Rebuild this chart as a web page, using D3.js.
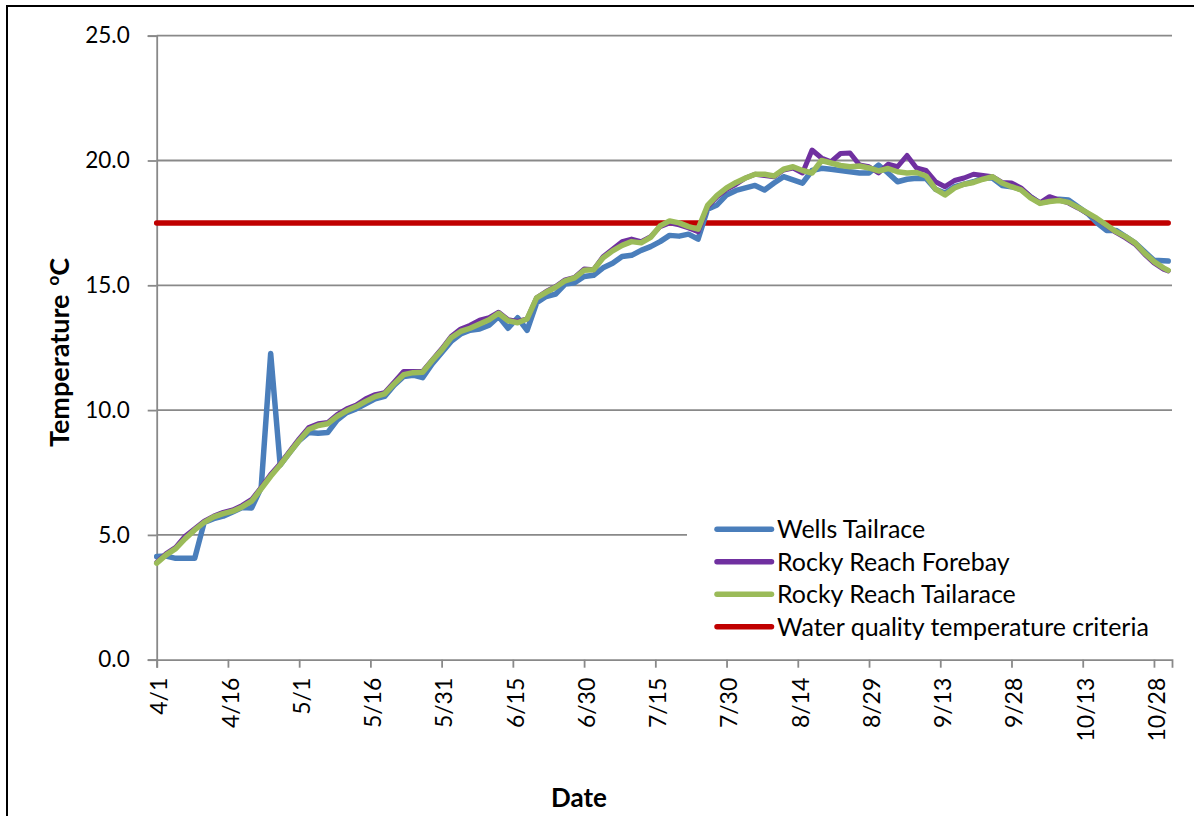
<!DOCTYPE html>
<html>
<head>
<meta charset="utf-8">
<script src="https://cdn.jsdelivr.net/npm/d3@7"></script>
<style>
  body { margin: 0; background: #fff; }
  svg { display: block; font-family: Lato, "Open Sans", sans-serif; }
</style>
</head>
<body>
<svg width="1194" height="816"></svg>
<script>
// days since 4/1, read every second day off the chart (last point 10/31)
const dayOffsets = d3.range(0, 213, 2).concat([213]);

const wellsTailrace = [
  4.13, 4.15, 4.06, 4.06, 4.06, 5.5, 5.65, 5.75, 5.92, 6.1,
  6.08, 6.9, 12.27, 7.8, 8.3, 8.78, 9.1, 9.07, 9.1, 9.6,
  9.9, 10.05, 10.25, 10.45, 10.55, 11.0, 11.35, 11.4, 11.3, 11.85,
  12.3, 12.75, 13.05, 13.2, 13.25, 13.4, 13.75, 13.28, 13.7, 13.2,
  14.3, 14.55, 14.65, 15.05, 15.1, 15.35, 15.4, 15.7, 15.88, 16.15,
  16.2, 16.4, 16.55, 16.75, 17.0, 16.97, 17.05, 16.85, 18.05, 18.22,
  18.62, 18.8, 18.9, 19.0, 18.82, 19.1, 19.35, 19.22, 19.09, 19.6,
  19.69, 19.65, 19.6, 19.55, 19.5, 19.5, 19.82, 19.5, 19.15, 19.25,
  19.29, 19.28, 18.85, 18.7, 18.95, 19.05, 19.15, 19.3, 19.3, 19.0,
  18.95, 18.85, 18.55, 18.3, 18.38, 18.45, 18.42, 18.15, 17.88, 17.5,
  17.2, 17.2, 16.95, 16.7, 16.35, 16.0, 15.98, 15.97
];

const rockyReachForebay = [
  3.9, 4.25, 4.5, 4.95, 5.25, 5.55, 5.75, 5.9, 6.0, 6.18,
  6.42, 6.9, 7.42, 7.85, 8.35, 8.85, 9.3, 9.45, 9.5, 9.82,
  10.05, 10.2, 10.45, 10.62, 10.7, 11.12, 11.55, 11.55, 11.55, 12.0,
  12.45, 12.95, 13.25, 13.4, 13.6, 13.7, 13.92, 13.62, 13.55, 13.65,
  14.5, 14.75, 14.95, 15.22, 15.32, 15.65, 15.62, 16.15, 16.45, 16.75,
  16.85, 16.75, 16.95, 17.35, 17.5, 17.42, 17.3, 17.15, 18.15, 18.55,
  18.85, 19.05, 19.3, 19.45, 19.4, 19.35, 19.62, 19.7, 19.5, 20.42,
  20.1, 19.95, 20.28, 20.3, 19.82, 19.75, 19.5, 19.85, 19.75, 20.2,
  19.7, 19.6, 19.15, 18.95, 19.2, 19.3, 19.45, 19.4, 19.35, 19.12,
  19.1, 18.9, 18.55, 18.3, 18.55, 18.42, 18.3, 18.1, 17.88, 17.65,
  17.4, 17.12, 16.9, 16.65, 16.25, 15.9, 15.65, 15.58
];

const rockyReachTailrace = [
  3.87, 4.2, 4.45, 4.85, 5.2, 5.5, 5.72, 5.85, 5.95, 6.12,
  6.35, 6.85, 7.35, 7.8, 8.3, 8.78, 9.22, 9.38, 9.45, 9.75,
  9.97, 10.14, 10.35, 10.54, 10.65, 11.05, 11.42, 11.5, 11.52, 11.98,
  12.4, 12.9, 13.15, 13.28, 13.45, 13.62, 13.88, 13.58, 13.5, 13.65,
  14.5, 14.72, 14.92, 15.18, 15.3, 15.6, 15.62, 16.1, 16.38, 16.6,
  16.75, 16.7, 16.92, 17.38, 17.58, 17.5, 17.35, 17.25, 18.2, 18.6,
  18.9, 19.12, 19.3, 19.45, 19.45, 19.38, 19.65, 19.75, 19.6, 19.5,
  20.0, 19.9, 19.8, 19.75, 19.78, 19.7, 19.58, 19.68, 19.55, 19.5,
  19.52, 19.38, 18.85, 18.62, 18.9, 19.05, 19.12, 19.25, 19.35, 19.1,
  18.95, 18.82, 18.5, 18.28, 18.36, 18.4, 18.32, 18.12, 17.9, 17.68,
  17.42, 17.15, 16.95, 16.7, 16.3, 15.95, 15.7, 15.6
];

const criteriaValue = 17.5;

const seriesNames = ["Wells Tailrace", "Rocky Reach Forebay", "Rocky Reach Tailarace", "Water quality temperature criteria"];
const seriesColors = ["#4a7ebb", "#7030a0", "#9bbb59", "#c00000"];

const xTickLabels = ["4/1", "4/16", "5/1", "5/16", "5/31", "6/15", "6/30", "7/15",
  "7/30", "8/14", "8/29", "9/13", "9/28", "10/13", "10/28"];
const yTicks = [0, 5, 10, 15, 20, 25];

const DAY = 864e5;
const start = Date.UTC(2013, 3, 1);
const dates = dayOffsets.map(d => new Date(start + d * DAY));
const parseTick = d3.utcParse("%m/%d/%Y");

const svg = d3.select("svg");
const gridColor = "#898989";

const x = d3.scaleUtc()
  .domain([new Date(start), new Date(start + 213.8 * DAY)])
  .range([156.7, 1172]);
const y = d3.scaleLinear().domain([0, 25]).range([659.7, 35.7]);

// outer border
svg.append("rect")
  .attr("x", 7).attr("y", 6)
  .attr("width", 1300).attr("height", 1000)
  .attr("fill", "none").attr("stroke", "#000").attr("stroke-width", 2);

// gridlines
svg.append("g")
  .selectAll("line")
  .data(yTicks.slice(1))
  .join("line")
  .attr("x1", x.range()[0]).attr("x2", x.range()[1])
  .attr("y1", d => y(d)).attr("y2", d => y(d))
  .attr("stroke", gridColor).attr("stroke-width", 1.8);

// y axis
const yAxis = svg.append("g")
  .attr("transform", `translate(${x.range()[0]},0)`)
  .call(d3.axisLeft(y).tickValues(yTicks).tickSize(9).tickPadding(18).tickFormat(d3.format(".1f")));
yAxis.select(".domain").attr("stroke", gridColor).attr("stroke-width", 1.8);
yAxis.selectAll(".tick line").attr("stroke", gridColor).attr("stroke-width", 1.8);
yAxis.selectAll(".tick text")
  .attr("font-size", 22.5).attr("fill", "#000")
  .attr("font-family", "Lato, sans-serif");

// x axis
const xAxis = svg.append("g")
  .attr("transform", `translate(0,${y(0)})`)
  .call(d3.axisBottom(x)
    .tickValues(xTickLabels.map(s => parseTick(s + "/2013")))
    .tickSize(8)
    .tickFormat(d3.utcFormat("%-m/%-d")));
xAxis.select(".domain").attr("stroke", gridColor).attr("stroke-width", 1.8);
xAxis.selectAll(".tick line").attr("stroke", gridColor).attr("stroke-width", 1.8);
xAxis.selectAll(".tick text")
  .attr("font-size", 23).attr("fill", "#000")
  .attr("font-family", "Lato, sans-serif")
  .attr("text-anchor", "end")
  .attr("transform", "translate(2,18) rotate(-90)")
  .attr("x", 0).attr("y", 0).attr("dy", "0.36em");

// criteria line first, data series on top
const lineGen = vals => d3.line()
  .x((d, i) => x(dates[i]))
  .y(d => y(d))(vals);

svg.append("line")
  .attr("x1", x(dates[0])).attr("x2", x(dates[dates.length - 1]))
  .attr("y1", y(criteriaValue)).attr("y2", y(criteriaValue))
  .attr("stroke", seriesColors[3]).attr("stroke-width", 5.5)
  .attr("stroke-linecap", "round");

const seriesData = [wellsTailrace, rockyReachForebay, rockyReachTailrace];
const widths = [5.5, 5, 5.5];
seriesData.forEach((vals, i) => {
  svg.append("path")
    .attr("d", lineGen(vals))
    .attr("fill", "none")
    .attr("stroke", seriesColors[i])
    .attr("stroke-width", widths[i])
    .attr("stroke-linejoin", "round")
    .attr("stroke-linecap", "round");
});

// legend
const legend = svg.append("g");
legend.append("rect")
  .attr("x", 687).attr("y", 510).attr("width", 490).attr("height", 136)
  .attr("fill", "#fff");
const rowY = [529.3, 561.7, 594.3, 626.7];
seriesNames.forEach((name, i) => {
  legend.append("line")
    .attr("x1", 717).attr("x2", 771.5)
    .attr("y1", rowY[i]).attr("y2", rowY[i])
    .attr("stroke", seriesColors[i]).attr("stroke-width", 5.5)
    .attr("stroke-linecap", "round");
  legend.append("text")
    .attr("class", "legend-text")
    .attr("x", 777).attr("y", rowY[i]).attr("dy", "0.36em")
    .attr("font-size", 24)
    .text(name);
});
// size legend text so the longest entry spans the same width as the original
const longest = legend.selectAll(".legend-text").filter((d, i) => i === 3).node();
const fs = 24 * 372 / longest.getComputedTextLength();
legend.selectAll(".legend-text").attr("font-size", fs);

// axis titles
const yTitle = svg.append("text")
  .attr("transform", "translate(69,447) rotate(-90)")
  .attr("font-weight", "bold").attr("font-size", 27);
yTitle.append("tspan").text("Temperature");
yTitle.append("tspan").attr("font-size", 17).attr("dx", 9).attr("dy", -10).text("o");
yTitle.append("tspan").attr("dy", 10).text("C");

svg.append("text")
  .attr("x", 579).attr("y", 807)
  .attr("text-anchor", "middle")
  .attr("font-weight", "bold").attr("font-size", 26)
  .text("Date");
</script>
</body>
</html>
